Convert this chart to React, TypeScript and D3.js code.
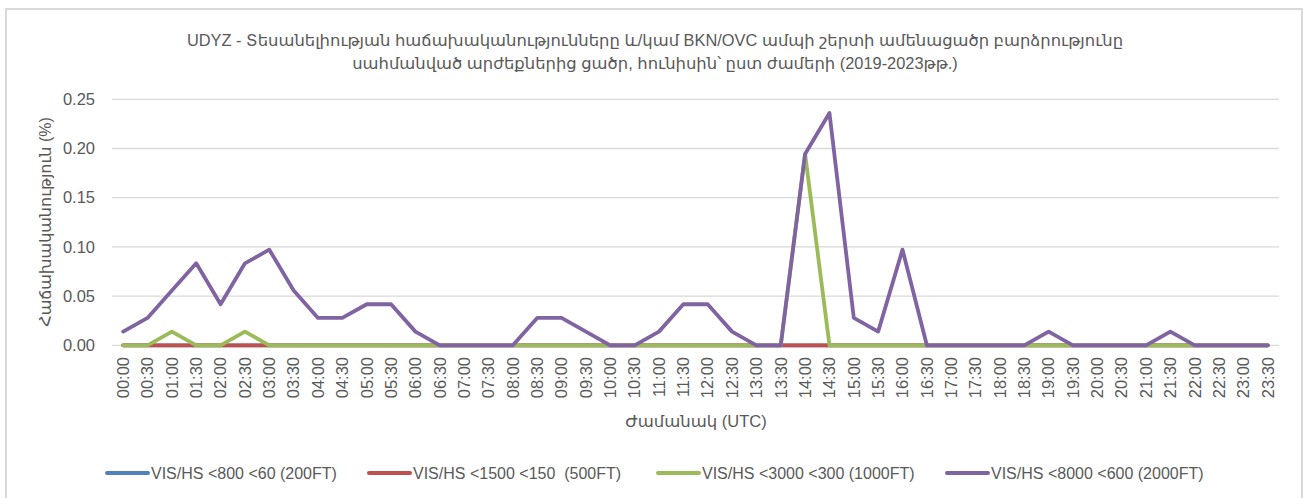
import React from 'react';
import * as d3 from 'd3';

// half-hour slots of the day
const times = [
  '00:00', '00:30', '01:00', '01:30', '02:00', '02:30', '03:00', '03:30',
  '04:00', '04:30', '05:00', '05:30', '06:00', '06:30', '07:00', '07:30',
  '08:00', '08:30', '09:00', '09:30', '10:00', '10:30', '11:00', '11:30',
  '12:00', '12:30', '13:00', '13:30', '14:00', '14:30', '15:00', '15:30',
  '16:00', '16:30', '17:00', '17:30', '18:00', '18:30', '19:00', '19:30',
  '20:00', '20:30', '21:00', '21:30', '22:00', '22:30', '23:00', '23:30',
];

const vis200 = [
  0, 0, 0, 0, 0, 0, 0, 0, 0, 0, 0, 0, 0, 0, 0, 0,
  0, 0, 0, 0, 0, 0, 0, 0, 0, 0, 0, 0, 0, 0, 0, 0,
  0, 0, 0, 0, 0, 0, 0, 0, 0, 0, 0, 0, 0, 0, 0, 0,
];

const vis500 = [
  0, 0, 0, 0, 0, 0, 0, 0, 0, 0, 0, 0, 0, 0, 0, 0,
  0, 0, 0, 0, 0, 0, 0, 0, 0, 0, 0, 0, 0, 0, 0, 0,
  0, 0, 0, 0, 0, 0, 0, 0, 0, 0, 0, 0, 0, 0, 0, 0,
];

const vis1000 = [
  0, 0, 0.0139, 0, 0, 0.0139, 0, 0, 0, 0, 0, 0, 0, 0, 0, 0,
  0, 0, 0, 0, 0, 0, 0, 0, 0, 0, 0, 0, 0.1944, 0, 0, 0,
  0, 0, 0, 0, 0, 0, 0, 0, 0, 0, 0, 0, 0, 0, 0, 0,
];

const vis2000 = [
  0.0139, 0.0278, 0.0556, 0.0833, 0.0417, 0.0833, 0.0972, 0.0556,
  0.0278, 0.0278, 0.0417, 0.0417, 0.0139, 0, 0, 0,
  0, 0.0278, 0.0278, 0.0139, 0, 0, 0.0139, 0.0417,
  0.0417, 0.0139, 0, 0, 0.1944, 0.2361, 0.0278, 0.0139,
  0.0972, 0, 0, 0, 0, 0, 0.0139, 0,
  0, 0, 0, 0.0139, 0, 0, 0, 0,
];

const seriesNames = [
  'VIS/HS <800 <60 (200FT)',
  'VIS/HS <1500 <150  (500FT)',
  'VIS/HS <3000 <300 (1000FT)',
  'VIS/HS <8000 <600 (2000FT)',
];
const seriesColors = ['#4f81bd', '#c0504d', '#9bbb59', '#8064a2'];
const seriesValues = [vis200, vis500, vis1000, vis2000];

const yTicks = [0, 0.05, 0.1, 0.15, 0.2, 0.25];

const titleLines = [
  'UDYZ - Տեսանելիության հաճախականությունները և/կամ BKN/OVC ամպի շերտի ամենացածր բարձրությունը',
  'սահմանված արժեքներից ցածր, հունիսին՝ ըստ ժամերի (2019-2023թթ.)',
];
const yTitle = 'Հաճախականություն (%)';
const xTitle = 'Ժամանակ (UTC)';

const legendX = [107, 369, 658, 947];

const W = 1307;
const H = 498;
const textColor = '#595959';
const font = "'Liberation Sans', 'DejaVu Sans', sans-serif";

export default function App() {
  const x = d3.scaleBand<string>().domain(times).range([111, 1280]);
  const y = d3.scaleLinear().domain([0, 0.25]).range([345.3, 99.3]);
  const cx = (t: string) => (x(t) as number) + x.bandwidth() / 2;

  const line = d3
    .line<number>()
    .x((_, i) => cx(times[i]))
    .y((d) => y(d));

  return (
    <div style={{ position: 'absolute', left: 0, top: 0 }}>
      <svg width={W} height={H} style={{ display: 'block', fontFamily: font }}>
        <rect x={0} y={0} width={W} height={H} fill="#fff" />
        <rect x={6} y={9} width={1296} height={H} fill="none" stroke="#d9d9d9" strokeWidth={2} />

        {titleLines.map((t, i) => (
          <text
            key={i}
            x={655}
            y={40 + i * 23}
            dy="0.35em"
            textAnchor="middle"
            fontSize={16.4}
            fill={textColor}
          >
            {t}
          </text>
        ))}

        {yTicks.map((v) => (
          <g key={v}>
            <line x1={112} x2={1279} y1={y(v)} y2={y(v)} stroke="#d9d9d9" strokeWidth={1.3} />
            <text x={95} y={y(v)} dy="0.35em" textAnchor="end" fontSize={16.5} fill={textColor}>
              {d3.format('.2f')(v)}
            </text>
          </g>
        ))}

        {times.map((t) => (
          <text
            key={t}
            transform={`translate(${cx(t)},357) rotate(-90)`}
            dy="0.35em"
            textAnchor="end"
            fontSize={16.5}
            fill={textColor}
          >
            {t}
          </text>
        ))}

        <text
          transform="translate(45,222) rotate(-90)"
          dy="0.35em"
          textAnchor="middle"
          fontSize={16}
          fill={textColor}
        >
          {yTitle}
        </text>
        <text x={696} y={421} dy="0.35em" textAnchor="middle" fontSize={16.5} fill={textColor}>
          {xTitle}
        </text>

        {seriesValues.map((vals, i) => (
          <path
            key={i}
            d={line(vals) || ''}
            fill="none"
            stroke={seriesColors[i]}
            strokeWidth={3.8}
            strokeLinejoin="round"
            strokeLinecap="round"
          />
        ))}

        {seriesNames.map((name, i) => (
          <g key={name} transform={`translate(${legendX[i]},473)`}>
            <line x1={0} x2={41} y1={0} y2={0} stroke={seriesColors[i]} strokeWidth={4} strokeLinecap="round" />
            <text x={44} y={0} dy="0.35em" fontSize={16} fill={textColor} style={{ whiteSpace: 'pre' }}>
              {name}
            </text>
          </g>
        ))}
      </svg>
    </div>
  );
}
